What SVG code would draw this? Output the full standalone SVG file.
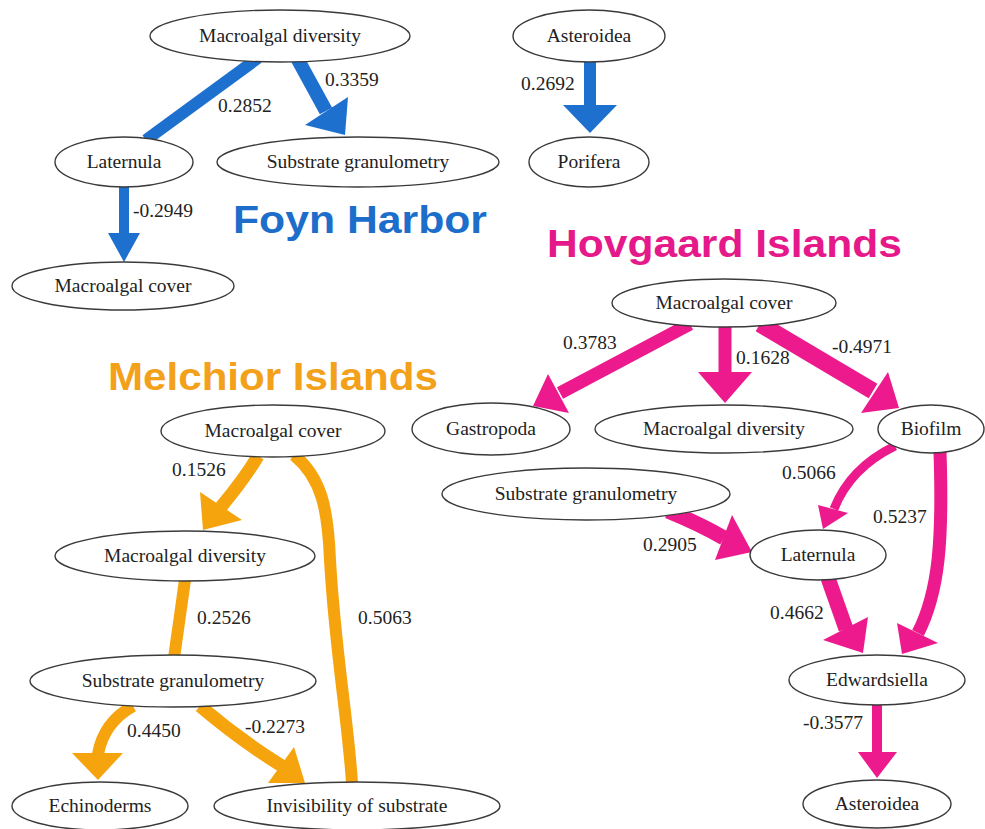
<svg xmlns="http://www.w3.org/2000/svg" width="985" height="829" viewBox="0 0 985 829">
  <style>
    .node ellipse { fill: #ffffff; stroke: #3a3a3a; stroke-width: 1.4; }
    .node text { font-family: 'Liberation Serif', 'DejaVu Serif', 'Times New Roman', Times, serif; font-size: 19.5px; fill: #222; text-anchor: middle; }
    .lbl { font-family: 'Liberation Serif', 'DejaVu Serif', 'Times New Roman', Times, serif; font-size: 19.5px; fill: #222; }
    .title { font-family: 'Liberation Sans', Arial, sans-serif; font-weight: bold; font-size: 39px; }
    .blue { stroke: #1e70cf; fill: none; stroke-linecap: butt; }
    .blue-h { fill: #1e70cf; }
    .pink { stroke: #ec1a8c; fill: none; stroke-linecap: butt; }
    .pink-h { fill: #ec1a8c; }
    .orange { stroke: #f6a40e; fill: none; stroke-linecap: butt; }
    .orange-h { fill: #f6a40e; }
  </style>

  <!-- region titles -->
  <text class="title" x="233" y="233" fill="#1d6ecb" textLength="254" lengthAdjust="spacingAndGlyphs">Foyn Harbor</text>
  <text class="title" x="547" y="257" fill="#e5198a" textLength="355" lengthAdjust="spacingAndGlyphs">Hovgaard Islands</text>
  <text class="title" x="108" y="390" fill="#f3a01a" textLength="330" lengthAdjust="spacingAndGlyphs">Melchior Islands</text>

  <!-- connectors -->
  <g id="connectors">
    <!-- Foyn Harbor -->
    <line class="blue" x1="258" y1="58" x2="146" y2="140" stroke-width="12"/>
    <line class="blue" x1="297" y1="58" x2="326" y2="111" stroke-width="14"/>
    <polygon class="blue-h" points="305,125 348,97 345,135"/>
    <line class="blue" x1="124" y1="186" x2="124" y2="234" stroke-width="10"/>
    <polygon class="blue-h" points="108,233 140,233 124,262"/>
    <line class="blue" x1="590" y1="60" x2="590" y2="106" stroke-width="12"/>
    <polygon class="blue-h" points="563,105 617,105 590,133"/>

    <!-- Hovgaard Islands -->
    <line class="pink" x1="690" y1="324" x2="560" y2="393" stroke-width="13"/>
    <polygon class="pink-h" points="548,374 569,413 533,406"/>
    <line class="pink" x1="725" y1="326" x2="725" y2="373" stroke-width="13"/>
    <polygon class="pink-h" points="698,372 752,372 725,403"/>
    <line class="pink" x1="760" y1="324" x2="873" y2="391" stroke-width="17"/>
    <polygon class="pink-h" points="861,413 888,372 899,408"/>
    <path class="pink" d="M 895 446 Q 850 468 834 509" stroke-width="9"/>
    <polygon class="pink-h" points="818,505 848,513 823,529"/>
    <path class="pink" d="M 940 452 C 943 540 939 592 918 633" stroke-width="13"/>
    <polygon class="pink-h" points="897,623 938,643 902,654"/>
    <path class="pink" d="M 668 511 Q 700 524 724 538" stroke-width="15"/>
    <polygon class="pink-h" points="732,515 715,560 752,552"/>
    <line class="pink" x1="828" y1="578" x2="846" y2="629" stroke-width="15"/>
    <polygon class="pink-h" points="823,640 868,617 863,653"/>
    <line class="pink" x1="877" y1="704" x2="877" y2="753" stroke-width="10"/>
    <polygon class="pink-h" points="858,752 897,752 877,778"/>

    <!-- Melchior Islands -->
    <path class="orange" d="M 258 456 Q 245 478 221 507" stroke-width="13"/>
    <polygon class="orange-h" points="200,492 242,520 203,530"/>
    <path class="orange" d="M 294 455 C 322 478 328 510 330 560 C 335 650 348 720 352 783" stroke-width="12"/>
    <line class="orange" x1="185" y1="580" x2="174" y2="658" stroke-width="12"/>
    <path class="orange" d="M 133 706 C 115 716 102 732 98 754" stroke-width="12"/>
    <polygon class="orange-h" points="72,753 123,753 98,780"/>
    <path class="orange" d="M 200 706 Q 240 740 282 766" stroke-width="13"/>
    <polygon class="orange-h" points="294,747 268,783 305,783"/>

    <!-- coefficients -->
    <text class="lbl" x="325" y="86">0.3359</text>
    <text class="lbl" x="218" y="112">0.2852</text>
    <text class="lbl" x="133" y="217">-0.2949</text>
    <text class="lbl" x="521" y="90">0.2692</text>

    <text class="lbl" x="563" y="349">0.3783</text>
    <text class="lbl" x="736" y="364">0.1628</text>
    <text class="lbl" x="832" y="353">-0.4971</text>
    <text class="lbl" x="782" y="479">0.5066</text>
    <text class="lbl" x="873" y="523">0.5237</text>
    <text class="lbl" x="643" y="551">0.2905</text>
    <text class="lbl" x="770" y="619">0.4662</text>
    <text class="lbl" x="803" y="729">-0.3577</text>

    <text class="lbl" x="172" y="476">0.1526</text>
    <text class="lbl" x="197" y="624">0.2526</text>
    <text class="lbl" x="358" y="624">0.5063</text>
    <text class="lbl" x="127" y="737">0.4450</text>
    <text class="lbl" x="245" y="733">-0.2273</text>
  </g>

  <!-- Foyn Harbor nodes -->
  <g id="fh-macroalgal-diversity" class="node"><ellipse cx="280" cy="36" rx="130" ry="26"/><text x="280" y="42">Macroalgal diversity</text></g>
  <g id="fh-laternula" class="node"><ellipse cx="124" cy="162" rx="69" ry="25"/><text x="124" y="168">Laternula</text></g>
  <g id="fh-substrate-granulometry" class="node"><ellipse cx="358" cy="162" rx="141" ry="25"/><text x="358" y="168">Substrate granulometry</text></g>
  <g id="fh-macroalgal-cover" class="node"><ellipse cx="123" cy="286" rx="111" ry="24"/><text x="123" y="292">Macroalgal cover</text></g>
  <g id="fh-asteroidea" class="node"><ellipse cx="589" cy="36" rx="76" ry="26"/><text x="589" y="42">Asteroidea</text></g>
  <g id="fh-porifera" class="node"><ellipse cx="589" cy="162" rx="60" ry="25"/><text x="589" y="168">Porifera</text></g>

  <!-- Hovgaard Islands nodes -->
  <g id="hi-macroalgal-cover" class="node"><ellipse cx="724" cy="303" rx="112" ry="24"/><text x="724" y="309">Macroalgal cover</text></g>
  <g id="hi-gastropoda" class="node"><ellipse cx="491" cy="429" rx="79" ry="26"/><text x="491" y="435">Gastropoda</text></g>
  <g id="hi-macroalgal-diversity" class="node"><ellipse cx="724" cy="429" rx="129" ry="24"/><text x="724" y="435">Macroalgal diversity</text></g>
  <g id="hi-biofilm" class="node"><ellipse cx="931" cy="429" rx="53" ry="24"/><text x="931" y="435">Biofilm</text></g>
  <g id="hi-substrate-granulometry" class="node"><ellipse cx="586" cy="494" rx="144" ry="26"/><text x="586" y="500">Substrate granulometry</text></g>
  <g id="hi-laternula" class="node"><ellipse cx="818" cy="555" rx="68" ry="25"/><text x="818" y="561">Laternula</text></g>
  <g id="hi-edwardsiella" class="node"><ellipse cx="877" cy="680" rx="88" ry="25"/><text x="877" y="686">Edwardsiella</text></g>
  <g id="hi-asteroidea" class="node"><ellipse cx="877" cy="804" rx="74" ry="24"/><text x="877" y="810">Asteroidea</text></g>

  <!-- Melchior Islands nodes -->
  <g id="mi-macroalgal-cover" class="node"><ellipse cx="273" cy="431" rx="112" ry="26"/><text x="273" y="437">Macroalgal cover</text></g>
  <g id="mi-macroalgal-diversity" class="node"><ellipse cx="185" cy="556" rx="130" ry="25"/><text x="185" y="562">Macroalgal diversity</text></g>
  <g id="mi-substrate-granulometry" class="node"><ellipse cx="173" cy="681" rx="143" ry="26"/><text x="173" y="687">Substrate granulometry</text></g>
  <g id="mi-echinoderms" class="node"><ellipse cx="100" cy="806" rx="88" ry="24"/><text x="100" y="812">Echinoderms</text></g>
  <g id="mi-invisibility-of-substrate" class="node"><ellipse cx="357" cy="806" rx="143" ry="24"/><text x="357" y="812">Invisibility of substrate</text></g>
</svg>
